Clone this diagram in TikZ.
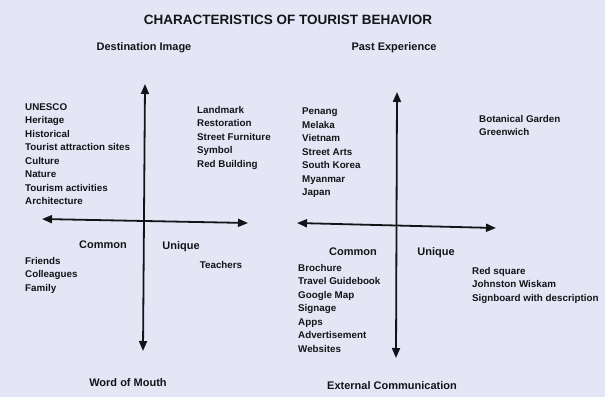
\documentclass[tikz,border=0pt]{standalone}
\usepackage{fontspec}
\setmainfont{Liberation Sans}
\usepackage{xcolor}
\usepackage{tikz}
\definecolor{bgLavender}{RGB}{228, 230, 246}
\definecolor{inkBlack}{RGB}{20, 20, 24}
\usetikzlibrary{arrows.meta, positioning}

\begin{document}
\begin{tikzpicture}[
    x=1pt, y=-1pt,
    axis/.style={
        line width=1.8pt,
        draw=inkBlack,
        {Triangle[length=10pt,width=8pt]}-{Triangle[length=10pt,width=8pt]}
    },
    headlabel/.style={
        inner sep=0pt,
        text=inkBlack,
        font=\fontsize{11}{13}\selectfont\bfseries
    },
    itemlist/.style={
        inner sep=0pt,
        anchor=north west,
        align=left,
        text=inkBlack,
        font=\fontsize{9.8}{13.5}\selectfont\bfseries
    }
]
    % page and background
    \fill[bgLavender] (0,0) rectangle (605,397);
    \useasboundingbox (0,0) rectangle (605,397);

    \node[
        inner sep=0pt,
        text=inkBlack,
        font=\fontsize{13.5}{16}\selectfont\bfseries
    ] (title) at (288,20) {CHARACTERISTICS OF TOURIST BEHAVIOR};

    % left quadrant chart
    \node[headlabel] (destimage) at (144,48) {Destination Image};
    \node[headlabel] (wordmouth) at (128,383) {Word of Mouth};
    \node[headlabel] (commonL) at (103,245) {Common};
    \node[headlabel] (uniqueL) at (181,247) {Unique};
    \node[itemlist, anchor=center] (teachers) at (221,265) {Teachers};

    \coordinate (ltop) at (145,84);
    \coordinate (lbot) at (143,351);
    \coordinate (lleft) at (42,219);
    \coordinate (lright) at (248,223);
    \draw[axis] (ltop) -- (lbot);
    \draw[axis] (lleft) -- (lright);

    \node[itemlist] (imagecommon) at (25,103) {
        UNESCO\\ Heritage\\ Historical\\ Tourist attraction sites\\
        Culture\\ Nature\\ Tourism activities\\ Architecture
    };
    \node[itemlist] (imageunique) at (197,106) {
        Landmark\\ Restoration\\ Street Furniture\\ Symbol\\ Red Building
    };
    \node[itemlist] (mouthcommon) at (25,257) {
        Friends\\ Colleagues\\ Family
    };

    % right quadrant chart
    \node[headlabel] (pastexp) at (394,48) {Past Experience};
    \node[headlabel] (extcomm) at (392,386) {External Communication};
    \node[headlabel] (commonR) at (353,252) {Common};
    \node[headlabel] (uniqueR) at (436,253) {Unique};

    \coordinate (rtop) at (397,92);
    \coordinate (rbot) at (396,358);
    \coordinate (rleft) at (297,223);
    \coordinate (rright) at (496,228);
    \draw[axis] (rtop) -- (rbot);
    \draw[axis] (rleft) -- (rright);

    \node[itemlist] (pastcommon) at (302,108) {
        Penang\\ Melaka\\ Vietnam\\ Street Arts\\ South Korea\\ Myanmar\\ Japan
    };
    \node[itemlist] (pastunique) at (479,115) {
        Botanical Garden\\ Greenwich
    };
    \node[itemlist] (extcommon) at (298,264) {
        Brochure\\ Travel Guidebook\\ Google Map\\ Signage\\ Apps\\
        Advertisement\\ Websites
    };
    \node[itemlist] (extunique) at (472,267) {
        Red square\\ Johnston Wiskam\\ Signboard with description
    };
\end{tikzpicture}
\end{document}
